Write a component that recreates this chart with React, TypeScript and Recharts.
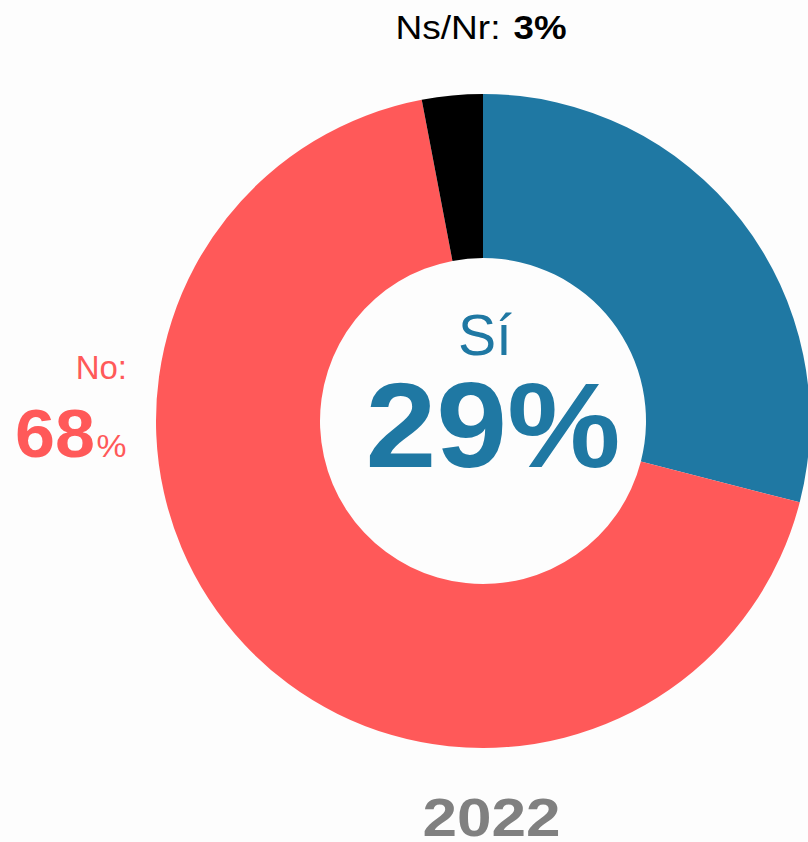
import { PieChart, Pie, Cell } from 'recharts';

// Respuestas 2022
const categories = ['Sí', 'No', 'Ns/Nr'];
const values = [29, 68, 3];
const colors = ['#1f78a3', '#ff5959', '#000000'];
const year = '2022';

const data = categories.map((name, i) => ({ name, value: values[i] }));

const FONT = '"Liberation Sans", Arial, sans-serif';

export default function App() {
  return (
    <div style={{ position: 'absolute', left: 0, top: 0, width: 808, height: 842, background: '#fdfdfd', overflow: 'hidden' }}>
      <PieChart width={808} height={842} margin={{ top: 0, right: 0, bottom: 0, left: 0 }}>
        <Pie
          data={data}
          dataKey="value"
          nameKey="name"
          cx={483}
          cy={421}
          innerRadius={163}
          outerRadius={327}
          startAngle={90}
          endAngle={-270}
          stroke="none"
          isAnimationActive={false}
        >
          {data.map((d, i) => (
            <Cell key={d.name} fill={colors[i]} />
          ))}
        </Pie>
      </PieChart>

      {/* etiquetas */}
      <svg width={808} height={842} style={{ position: 'absolute', left: 0, top: 0, pointerEvents: 'none' }} fontFamily={FONT}>
        <text x={448} y={39} textAnchor="middle" fontSize={33} fill="#000" textLength={105} lengthAdjust="spacingAndGlyphs">
          {categories[2]}:
        </text>
        <text x={540} y={39} textAnchor="middle" fontSize={33} fontWeight="bold" fill="#000" textLength={53} lengthAdjust="spacingAndGlyphs">
          {values[2]}%
        </text>

        <text x={127} y={379} textAnchor="end" fontSize={33} fill={colors[1]}>
          {categories[1]}:
        </text>
        <text x={55} y={457} textAnchor="middle" fontSize={68} fontWeight="bold" fill={colors[1]} textLength={80} lengthAdjust="spacingAndGlyphs">
          {values[1]}
        </text>
        <text x={111.5} y={457} textAnchor="middle" fontSize={31} fill={colors[1]} textLength={30} lengthAdjust="spacingAndGlyphs">
          %
        </text>

        <text x={485} y={355} textAnchor="middle" fontSize={57} fill={colors[0]} textLength={54} lengthAdjust="spacingAndGlyphs">
          {categories[0]}
        </text>
        <text x={493} y={467} textAnchor="middle" fontSize={120} fontWeight="bold" fill={colors[0]} textLength={255} lengthAdjust="spacingAndGlyphs">
          {values[0]}%
        </text>

        <text x={491.5} y={836} textAnchor="middle" fontSize={53} fontWeight="bold" fill="#808080" textLength={138} lengthAdjust="spacingAndGlyphs">
          {year}
        </text>
      </svg>
    </div>
  );
}
